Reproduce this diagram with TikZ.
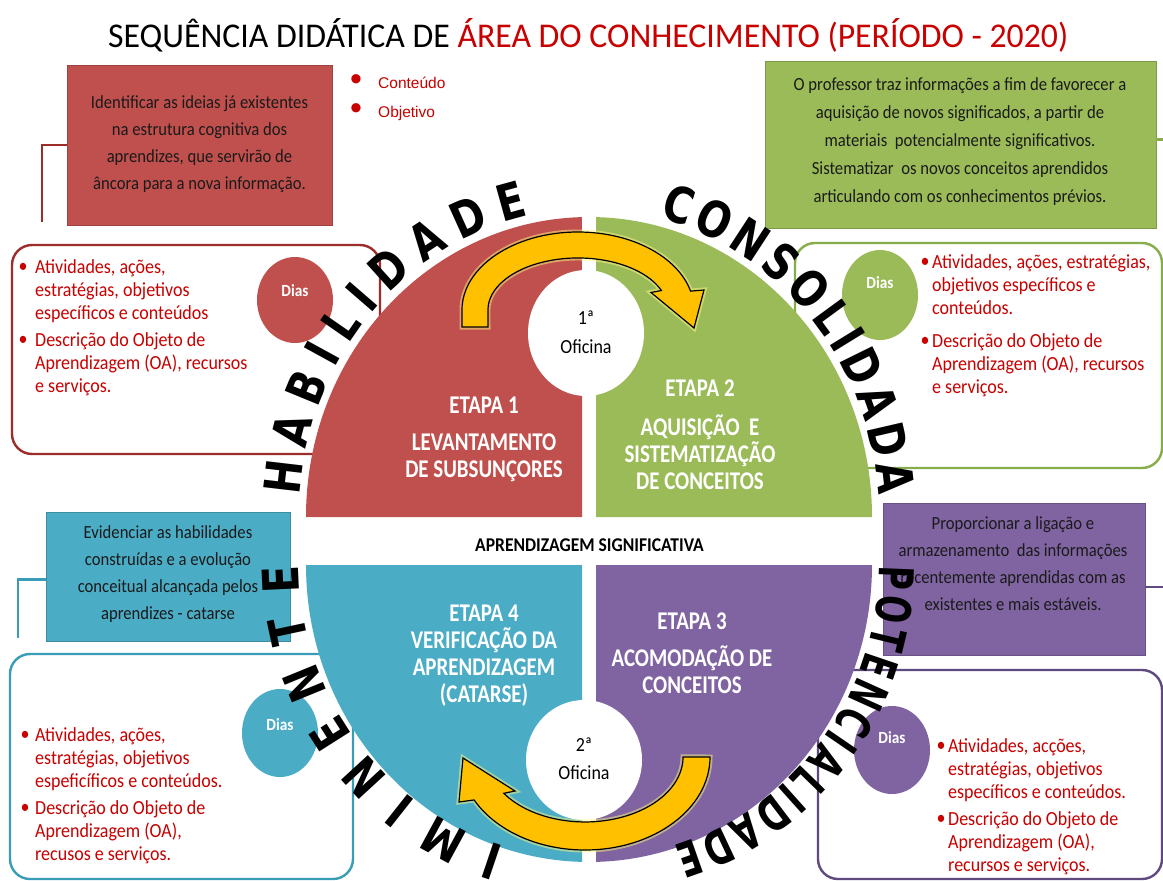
\documentclass[tikz,border=0pt]{standalone}
\usepackage{fontspec}
\usetikzlibrary{decorations.text,shapes.geometric}
\setmainfont{Carlito}
\newfontfamily\bodyfont{Carlito}[FakeStretch=0.9]
\newfontfamily\stagefont{Carlito}[FakeStretch=0.82]
\newfontfamily\arcfont{DejaVu Sans}[FakeStretch=0.8]
\newfontfamily\arcnarrowfont{DejaVu Sans}[FakeStretch=0.68]
\newfontfamily\dotfont{Liberation Sans}
\newfontfamily\titlefont{Carlito}

\definecolor{qred}{HTML}{C0504D}
\definecolor{qgreen}{HTML}{9BBB59}
\definecolor{qblue}{HTML}{4BACC6}
\definecolor{qpurple}{HTML}{8064A2}
\definecolor{lred}{HTML}{9B2D2A}
\definecolor{lgreen}{HTML}{86AC4B}
\definecolor{lblue}{HTML}{3A9DB8}
\definecolor{lpurple}{HTML}{5F4A80}
\definecolor{txtred}{HTML}{C80000}
\definecolor{arrowyellow}{HTML}{FFC000}
\definecolor{inktext}{HTML}{1A1A1A}

\begin{document}
\begin{tikzpicture}[x=1pt,y=-1pt,
  descbox/.style={rectangle, inner sep=0pt, fill=#1, draw=#1!82!black, line width=0.8pt},
  desctext/.style={font=\bodyfont\fontsize{18.5}{27}\selectfont, text=inktext, align=center, inner sep=0pt},
  listbox/.style={rectangle, inner sep=0pt, rounded corners=20pt, draw=#1, line width=2.4pt},
  link/.style={draw=#1, line width=2.4pt},
  listtext/.style={font=\bodyfont\fontsize{20}{22.75}\selectfont, text=txtred, align=left, anchor=north west, inner sep=0pt},
  listdot/.style={font=\bodyfont\fontsize{20}{20}\selectfont, text=txtred, inner sep=0pt},
  keydot/.style={font=\dotfont\fontsize{34}{34}\selectfont, text=txtred, inner sep=0pt},
  keytext/.style={font=\dotfont\fontsize{15.5}{15.5}\selectfont, text=txtred, inner sep=0pt, anchor=base west},
  daybubble/.style={ellipse, inner sep=0pt, fill=#1, minimum width=76pt, minimum height=88pt},
  daytext/.style={font=\bodyfont\bfseries\fontsize{17}{17}\selectfont, text=white, inner sep=0pt},
  stagetext/.style={font=\stagefont\bfseries\fontsize{25.5}{27}\selectfont, text=white, align=center, inner sep=0pt},
  hubtext/.style={font=\bodyfont\fontsize{20}{29}\selectfont, text=black, align=center, inner sep=0pt},
  hub/.style={ellipse, inner sep=0pt, fill=white, minimum width=116pt},
  turnarrow/.style={fill=arrowyellow, draw=black, line width=1.2pt, line join=miter,
    preaction={draw=yellow!50, line width=5pt, opacity=0.5}},
  arclabel/.style={decorate, decoration={text along path, text align=fit to path,
    text color=black, text={|\arcfont\bfseries\fontsize{50}{50}\selectfont|#1}}},
  arclabelnarrow/.style={decorate, decoration={text along path, text align=fit to path,
    text color=black, text={|\arcnarrowfont\bfseries\fontsize{48}{48}\selectfont|#1}}}
]
\useasboundingbox (0,0) rectangle (1163,881);
\clip (0,0) rectangle (1163,881);
\fill[white] (0,0) rectangle (1163,881);

% title
\node[anchor=base west, inner sep=0pt] (title) at (108,47)
  {\resizebox{960pt}{29pt}{\titlefont SEQUÊNCIA DIDÁTICA DE \textcolor{txtred}{ÁREA DO CONHECIMENTO (PERÍODO - 2020)}}};

% description boxes
\node[descbox=qred, minimum width=265pt, minimum height=160pt] (boxA) at (199.5,145) {};
\node[desctext] (txtA) at (199.5,144) {Identificar as ideias já existentes\\na estrutura cognitiva dos\\aprendizes, que servirão de\\âncora para a nova informação.};

\node[descbox=qgreen, minimum width=391pt, minimum height=167pt] (boxB) at (960.5,144.5) {};
\node[desctext, font=\bodyfont\fontsize{18.5}{28}\selectfont] (txtB) at (960,141.5) {O professor traz informações a fim de favorecer a\\aquisição de novos significados, a partir de\\materiais\ \ potencialmente significativos.\\Sistematizar\ \ os novos conceitos aprendidos\\articulando com os conhecimentos prévios.};

\node[descbox=qblue, minimum width=244pt, minimum height=129pt] (boxD) at (168,576.5) {};
\node[desctext] (txtD) at (168,574) {Evidenciar as habilidades\\construídas e a evolução\\conceitual alcançada pelos\\aprendizes - catarse};

\node[descbox=qpurple, minimum width=262pt, minimum height=152pt] (boxC) at (1014,579) {};
\node[desctext] (txtC) at (1013,564) {Proporcionar a ligação e\\armazenamento\ \ das informações\\recentemente aprendidas com as\\existentes e mais estáveis.};

% bracket links
\coordinate (endA) at (42,222);
\coordinate (endB) at (1180,240);
\coordinate (endC) at (1180,660);
\coordinate (endD) at (18,638);
\draw[link=lred] (boxA.west) -| (endA);
\draw[link=lgreen] ([yshift=5pt]boxB.east) -| (endB);
\draw[link=lpurple] ([yshift=-8pt]boxC.east) -| (endC);
\draw[link=lblue] ([yshift=-3pt]boxD.west) -| (endD);

% key items
\node[keydot] (kd1) at (356,83) {\textbullet};
\node[keydot] (kd2) at (356,112) {\textbullet};
\node[keytext] (kt1) at (378,88.5) {Conteúdo};
\node[keytext] (kt2) at (378,117.5) {Objetivo};

% activity boxes
\node[listbox=lred, minimum width=368pt, minimum height=209pt] (listA) at (196,349.5) {};
\node[listbox=lgreen, minimum width=367pt, minimum height=225pt] (listB) at (978.5,355.5) {};
\node[listbox=lblue, minimum width=343pt, minimum height=225pt] (listD) at (181.5,766.5) {};
\node[listbox=lpurple, minimum width=344pt, minimum height=209pt] (listC) at (990,774.5) {};

% day bubbles
\node[daybubble=qred, minimum height=86pt] (dayA) at (295,300) {};
\node[daytext] (dayAt) at (295,291) {Dias};
\node[daybubble=qgreen, minimum height=90pt] (dayB) at (880,295) {};
\node[daytext] (dayBt) at (880,283) {Dias};
\node[daybubble=qblue] (dayD) at (280,733) {};
\node[daytext] (dayDt) at (280,725) {Dias};
\node[daybubble=qpurple] (dayC) at (892,750) {};
\node[daytext] (dayCt) at (892,738) {Dias};

% activity lists
\node[listdot] (la1d) at (23,268) {\textbullet};
\node[listtext] (la1) at (35,259.6) {Atividades, ações,\\estratégias, objetivos\\específicos e conteúdos};
\node[listdot] (la2d) at (23,341) {\textbullet};
\node[listtext] (la2) at (35,332.6) {Descrição do Objeto de\\Aprendizagem (OA), recursos\\e serviços.};

\node[listdot] (lb1d) at (925,263) {\textbullet};
\node[listtext] (lb1) at (932,254.6) {Atividades, ações, estratégias,\\objetivos específicos e\\conteúdos.};
\node[listdot] (lb2d) at (925,342) {\textbullet};
\node[listtext] (lb2) at (932,333.6) {Descrição do Objeto de\\Aprendizagem (OA), recursos\\e serviços.};

\node[listdot] (ld1d) at (25,736) {\textbullet};
\node[listtext] (ld1) at (35,727.6) {Atividades, ações,\\estratégias, objetivos\\espeficíficos e conteúdos.};
\node[listdot] (ld2d) at (25,809) {\textbullet};
\node[listtext] (ld2) at (35,800.6) {Descrição do Objeto de\\Aprendizagem (OA),\\recusos e serviços.};

\node[listdot] (lc1d) at (941,747) {\textbullet};
\node[listtext] (lc1) at (948,738.6) {Atividades, acções,\\estratégias, objetivos\\específicos e conteúdos.};
\node[listdot] (lc2d) at (941,820) {\textbullet};
\node[listtext] (lc2) at (948,811.6) {Descrição do Objeto de\\Aprendizagem (OA),\\recursos e serviços.};

% the four quarters
\fill[qred] (582,517) -- (306,517) arc[start angle=-180, end angle=-91.42, x radius=283, y radius=300] -- cycle;
\fill[qgreen] (596,517) -- (596,217.1) arc[start angle=-88.58, end angle=0, x radius=283, y radius=300] -- cycle;
\fill[qblue] (306,565) -- (582,565) -- (582,861.9) arc[start angle=91.42, end angle=180, x radius=283, y radius=297] -- cycle;
\fill[qpurple] (596,565) -- (872,565) arc[start angle=0, end angle=88.58, x radius=283, y radius=297] -- cycle;

% workshop hubs
\node[hub, minimum height=126pt] (hubT) at (586,333) {};
\node[hub, minimum height=120pt] (hubB) at (584,760) {};
\node[hubtext] (hubTt) at (586,332.5) {1ª\\Oficina};
\node[hubtext, font=\bodyfont\fontsize{20}{28}\selectfont] (hubBt) at (584,759) {2ª\\Oficina};

% turning arrows
\draw[turnarrow] (462,327) -- (462,310)
  arc[start angle=-180, end angle=-14, x radius=116, y radius=78]
  -- (704,290) -- (694,328) -- (651,292.5) -- (661.4,290.5)
  arc[start angle=-22, end angle=-180, x radius=90, y radius=52]
  -- (488,327) -- cycle;
\draw[turnarrow] (710,757)
  arc[start angle=0, end angle=152.5, x radius=125, y radius=93]
  -- (459,802) -- (463,758) -- (515,791) -- (503.8,793.3)
  arc[start angle=146, end angle=0, x radius=98, y radius=65]
  -- cycle;

% stage labels
\node[stagetext] (st1) at (484,439) {ETAPA 1\\[10pt]LEVANTAMENTO\\DE SUBSUNÇORES};
\node[stagetext] (st2) at (700,434.5) {ETAPA 2\\[12pt]AQUISIÇÃO\ \ E\\SISTEMATIZAÇÃO\\DE CONCEITOS};
\node[stagetext] (st4) at (484,655.4) {ETAPA 4\\VERIFICAÇÃO DA\\APRENDIZAGEM\\(CATARSE)};
\node[stagetext] (st3) at (692,653) {ETAPA 3\\[10pt]ACOMODAÇÃO DE\\CONCEITOS};

\node[font=\bodyfont\bfseries\fontsize{19.5}{19.5}\selectfont, inner sep=0pt] (core) at (589.5,545) {APRENDIZAGEM SIGNIFICATIVA};

% words around the circle
\path[arclabel=HABILIDADE] (299.71,495.52) arc[start angle=-176, end angle=-102, x radius=290, y radius=308];
\path[arclabel=CONSOLIDADA] (659.16,218.15) arc[start angle=-76, end angle=-4, x radius=290, y radius=308];
\path[arclabelnarrow=POTENCIALIDADE] (879,565) arc[start angle=0, end angle=73, x radius=290, y radius=294];
\path[arclabel=IMINENTE] (504.21,846.15) arc[start angle=107, end angle=180, x radius=290, y radius=294];
\end{tikzpicture}
\end{document}
